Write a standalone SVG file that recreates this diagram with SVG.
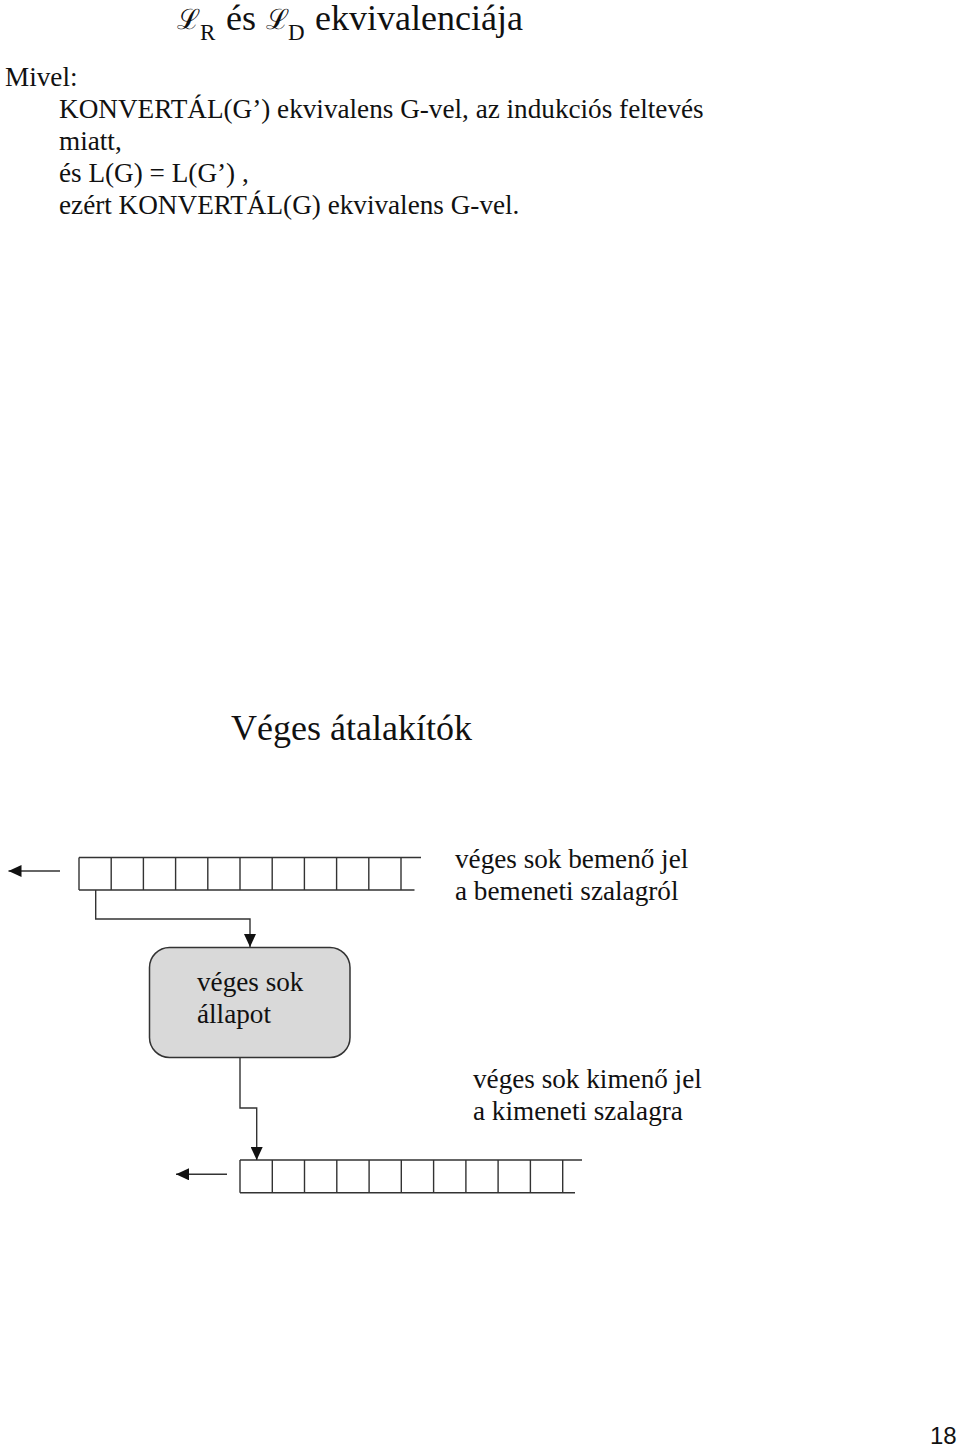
<svg xmlns="http://www.w3.org/2000/svg" width="960" height="1449" viewBox="0 0 960 1449">
  <style>
    .t { font-family: "Liberation Serif", "Times New Roman", serif; font-size: 27.2px; fill: #111; }
    .h { font-family: "Liberation Serif", "Times New Roman", serif; font-size: 36px; fill: #111; }
    .scr { font-family: "DejaVu Serif", "Liberation Serif", serif; font-size: 28px; fill: #111; }
    .sub { font-family: "Liberation Serif", "Times New Roman", serif; font-size: 23px; fill: #111; }
    .pg { font-family: "Liberation Sans", Arial, sans-serif; font-size: 24px; fill: #111; }
    .ln { fill: none; stroke: #333; stroke-width: 1.4; }
    .box { fill: #d9d9d9; stroke: #333; stroke-width: 1.5; }
  </style>
  <defs>
    <marker id="arr" markerUnits="userSpaceOnUse" markerWidth="14" markerHeight="12" viewBox="0 0 14 12" refX="13" refY="6" orient="auto">
      <path d="M0,0 L13,6 L0,12 Z" fill="#111"/>
    </marker>
  </defs>
  <rect width="960" height="1449" fill="#fff"/>

  <g id="title">
    <text class="scr" x="177" y="29">ℒ</text>
    <text class="sub" x="200" y="40">R</text>
    <text class="h" x="226" y="30">és</text>
    <text class="scr" x="266" y="29">ℒ</text>
    <text class="sub" x="288" y="40">D</text>
    <text class="h" x="315" y="30">ekvivalenciája</text>
  </g>

  <g id="body-text">
    <text class="t" x="5" y="86">Mivel:</text>
    <text class="t" x="59" y="118">KONVERTÁL(G’) ekvivalens G-vel, az indukciós feltevés</text>
    <text class="t" x="59" y="150">miatt,</text>
    <text class="t" x="59" y="182">és L(G) = L(G’) ,</text>
    <text class="t" x="59" y="214">ezért KONVERTÁL(G) ekvivalens G-vel.</text>
  </g>

  <g id="heading2">
    <text class="h" x="231" y="740">Véges átalakítók</text>
  </g>

  <g id="input-tape">
    <path class="ln" d="M79,857.5 H421 M79,890 H414.5"/>
    <path class="ln" d="M79,857.5 V890 M111.2,857.5 V890 M143.4,857.5 V890 M175.6,857.5 V890 M207.8,857.5 V890 M240,857.5 V890 M272.2,857.5 V890 M304.4,857.5 V890 M336.6,857.5 V890 M368.8,857.5 V890 M401,857.5 V890"/>
  </g>

  <g id="input-label">
    <text class="t" x="455" y="868">véges sok bemenő jel</text>
    <text class="t" x="455" y="900">a bemeneti szalagról</text>
  </g>

  <g id="state">
    <rect class="box" x="149.5" y="947.5" width="200.5" height="110" rx="20" ry="20"/>
    <text class="t" x="197" y="991">véges sok</text>
    <text class="t" x="197" y="1023">állapot</text>
  </g>

  <g id="output-label">
    <text class="t" x="473" y="1088">véges sok kimenő jel</text>
    <text class="t" x="473" y="1120">a kimeneti szalagra</text>
  </g>

  <g id="output-tape">
    <path class="ln" d="M240,1160 H582 M240,1192.7 H575"/>
    <path class="ln" d="M240,1160 V1192.7 M272.3,1160 V1192.7 M304.5,1160 V1192.7 M336.8,1160 V1192.7 M369.1,1160 V1192.7 M401.3,1160 V1192.7 M433.6,1160 V1192.7 M465.9,1160 V1192.7 M498.1,1160 V1192.7 M530.4,1160 V1192.7 M562.7,1160 V1192.7"/>
  </g>

  <g id="connectors">
    <path class="ln" d="M60,871 H8.5" marker-end="url(#arr)"/>
    <path class="ln" d="M95.7,890 V919 H250 V947" marker-end="url(#arr)"/>
    <path class="ln" d="M240,1057.5 V1108 H256.7 V1160" marker-end="url(#arr)"/>
    <path class="ln" d="M227,1174.3 H176" marker-end="url(#arr)"/>
  </g>

  <g id="page-number">
    <text class="pg" x="930" y="1444">18</text>
  </g>
</svg>
